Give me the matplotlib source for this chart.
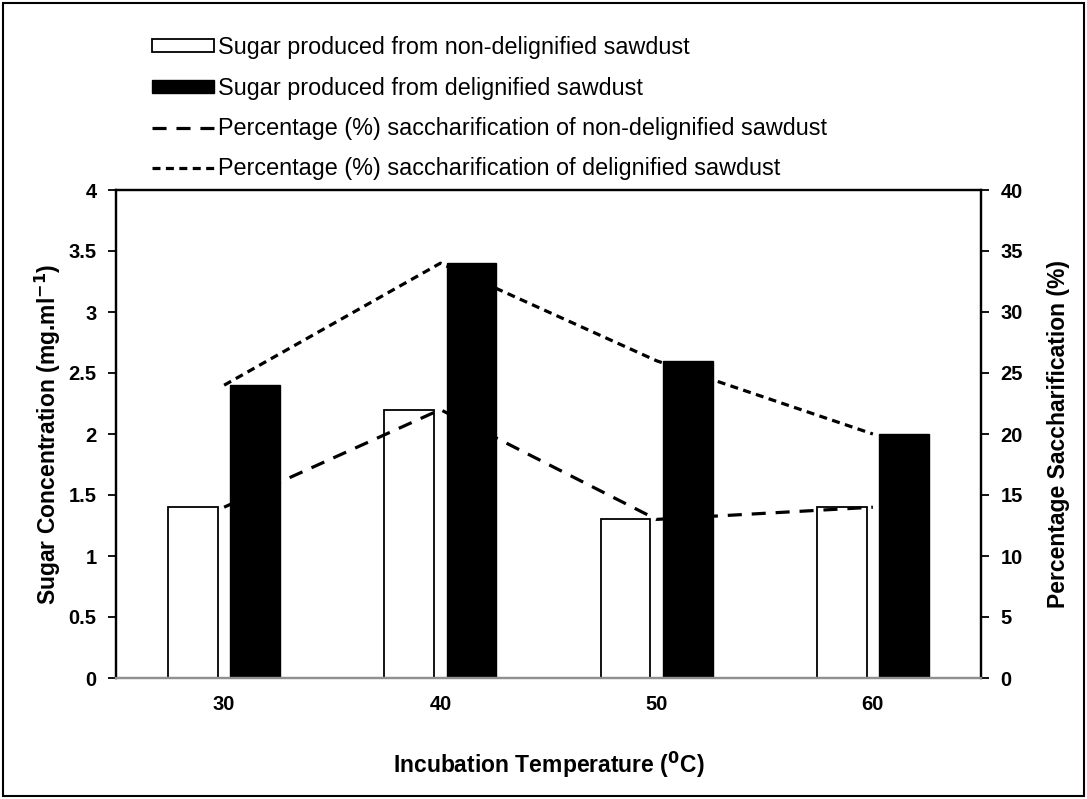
import matplotlib
matplotlib.use("Agg")
import matplotlib.pyplot as plt
import numpy as np
from matplotlib.patches import Rectangle
from matplotlib.lines import Line2D

plt.rcParams['font.family'] = ['Liberation Sans', 'DejaVu Sans']

temps = ["30", "40", "50", "60"]
sugar_non = [1.4, 2.2, 1.3, 1.4]
sugar_del = [2.4, 3.4, 2.6, 2.0]
pct_non = [14, 22, 13, 14]
pct_del = [24, 34, 26, 20]

labels = ["Sugar produced from non-delignified sawdust",
          "Sugar produced from delignified sawdust",
          "Percentage (%) saccharification of non-delignified sawdust",
          "Percentage (%) saccharification of delignified sawdust"]

fig = plt.figure(figsize=(10.87, 7.99), dpi=100)
W, H = 1087, 799
ax = fig.add_axes([116 / W, 1 - 678 / H, (981 - 116) / W, (678 - 190) / H])
ax2 = ax.twinx()

x = np.arange(len(temps))
bw = 0.23
off = 0.144
ax.bar(x - off, sugar_non, bw, color='white', edgecolor='black', linewidth=1.3, zorder=2)
ax.bar(x + off, sugar_del, bw, color='black', edgecolor='black', linewidth=1.0, zorder=2)

ax.set_xlim(-0.5, len(temps) - 0.5)
ax.set_ylim(0, 4)
ax.set_yticks(np.arange(0, 4.01, 0.5))
ax.set_yticklabels(['0', '0.5', '1', '1.5', '2', '2.5', '3', '3.5', '4'])
ax.set_xticks(x)
ax.set_xticklabels(temps)

LW = 2.3
DASH_LONG = (4.4, 3.1)
DASH_SHORT = (2.5, 1.7)
ax2.plot(x, pct_non, color='black', linewidth=LW, dashes=DASH_LONG, zorder=5)
ax2.plot(x, pct_del, color='black', linewidth=LW, dashes=DASH_SHORT, zorder=5)
ax2.set_ylim(0, 40)
ax2.set_yticks(np.arange(0, 41, 5))

ax.set_zorder(1)
ax2.set_zorder(2)
ax2.patch.set_visible(False)

for a in (ax, ax2):
    for s in ('left', 'right', 'top'):
        a.spines[s].set_color('black')
        a.spines[s].set_linewidth(1.6)
    a.spines['bottom'].set_color('#909090')
    a.spines['bottom'].set_linewidth(1.6)

ax.tick_params(axis='y', direction='out', length=6, width=1.3, labelsize=14.5, pad=8)
ax2.tick_params(axis='y', direction='out', length=6, width=1.3, labelsize=14.5, pad=8)
ax.tick_params(axis='x', length=0, labelsize=14.5, pad=12)
for lab in ax.get_yticklabels() + ax.get_xticklabels() + ax2.get_yticklabels():
    lab.set_fontweight('bold')

ax.set_ylabel("Sugar Concentration (mg.ml$^{\\mathbf{-1}}$)", fontsize=16.5, fontweight='bold', labelpad=4)
ax2.set_ylabel("Percentage Saccharification (%)", fontsize=16.5, fontweight='bold', labelpad=17)
ax.set_xlabel("Incubation Temperature ($^{\\mathbf{0}}$C)", fontsize=16.5, fontweight='bold', labelpad=26)

handles = [Rectangle((0, 0), 1, 1, facecolor='white', edgecolor='black', linewidth=1.3),
           Rectangle((0, 0), 1, 1, facecolor='black', edgecolor='black'),
           Line2D([], [], color='black', linewidth=LW, dashes=DASH_LONG),
           Line2D([], [], color='black', linewidth=LW, dashes=DASH_SHORT)]
leg = fig.legend(handles, labels, loc='upper left', bbox_to_anchor=(152 / W, 1 - 36 / H),
                 frameon=False, fontsize=16.8, handlelength=2.66, handleheight=0.49,
                 handletextpad=0.17, labelspacing=0.75, borderaxespad=0, borderpad=0)

fig.patches.append(Rectangle((3 / W, 3 / H), 1 - 6 / W, 1 - 6 / H, transform=fig.transFigure,
                             fill=False, edgecolor='black', linewidth=1.5))

fig.savefig("out.png", dpi=100)
